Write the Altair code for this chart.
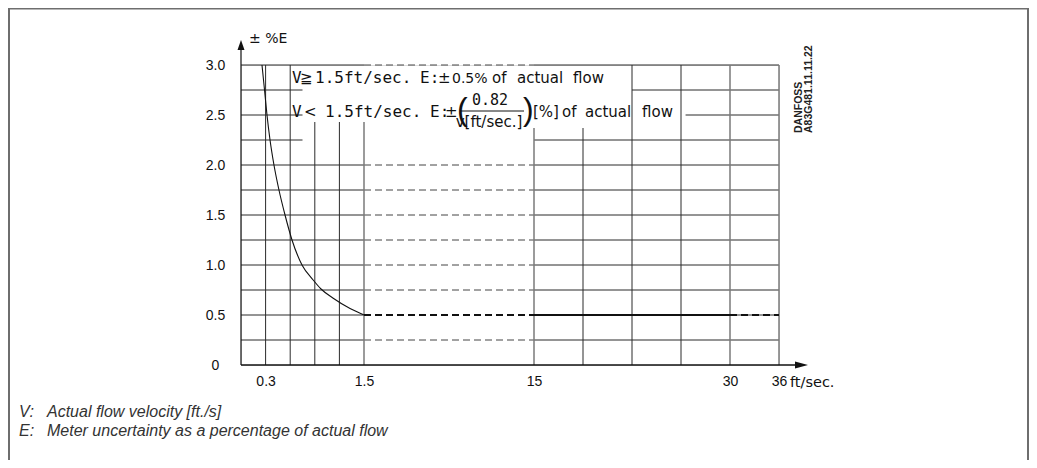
import altair as alt
import pandas as pd

# ---------------- data ----------------
# curve  E = f(v) for v < 1.5 ft/sec
curve_v = [0.256, 0.287, 0.317, 0.354, 0.402, 0.463, 0.537, 0.622, 0.744, 0.88, 0.976, 1.12, 1.33, 1.5]
curve_e = [3.0, 2.75, 2.5, 2.25, 2.0, 1.75, 1.5, 1.25, 1.0, 0.85, 0.76, 0.67, 0.565, 0.5]

# broken velocity axis (ft/sec) and tick labels
x_stops = [0, 1.5, 15, 30, 36]
x_ticks = [0.3, 1.5, 15, 30, 36]
y_ticks = [0, 0.5, 1.0, 1.5, 2.0, 2.5, 3.0]

# horizontal grid (level, from v, to v)
h_left_levels = [0.25, 0.5, 0.75, 1.0, 1.25, 1.5, 1.75, 2.0, 3.0]        # 0 -> 1.5
h_left_short = [2.25, 2.5, 2.75]                                          # 0 -> 0.75
h_mid_dashed = [0.25, 0.75, 1.0, 1.25, 1.5, 1.75, 2.0, 3.0]               # 1.5 -> 15
h_right_levels = [0.25, 0.5, 0.75, 1.0, 1.25, 1.5, 1.75, 2.0, 2.25, 3.0]  # 15 -> 36
h_right_short = [(2.5, 26.6), (2.75, 22.5)]                               # start -> 36

# vertical grid (v, top E)
v_dark = [(0.3, 3.0), (0.6, 3.0), (0.9, 2.43), (1.2, 2.43), (18.75, 2.37), (22.5, 3.0), (26.25, 3.0)]
v_grey = [(1.5, 2.43), (15, 2.37), (30, 3.0), (36, 3.0)]

# accuracy limit 0.5 % line pieces
limit_solid = [(15, 30)]
limit_dashed = [(1.5, 15), (30, 36)]
limit_level = 0.5

# ---------------- tables ----------------
hs = pd.DataFrame(
    [{"y": l, "x0": 0, "x1": 1.5} for l in h_left_levels]
    + [{"y": l, "x0": 0, "x1": 0.75} for l in h_left_short]
    + [{"y": l, "x0": 15, "x1": 36} for l in h_right_levels]
    + [{"y": l, "x0": s, "x1": 36} for l, s in h_right_short]
)
hd = pd.DataFrame([{"y": l, "x0": 1.5, "x1": 15} for l in h_mid_dashed])
vdk = pd.DataFrame([{"x": v, "y0": 0, "y1": t} for v, t in v_dark])
vgr = pd.DataFrame([{"x": v, "y0": 0, "y1": t} for v, t in v_grey])
ls = pd.DataFrame([{"y": limit_level, "x0": a, "x1": b} for a, b in limit_solid])
ld = pd.DataFrame([{"y": limit_level, "x0": a, "x1": b} for a, b in limit_dashed])
cv = pd.DataFrame({"v": curve_v, "e": curve_e})

# ---------------- scales / axes ----------------
OX, OY = 241, 65   # page position of plot origin
xscale = alt.Scale(domain=x_stops, range=[0, 123, 293, 489, 538], nice=False, zero=False)
yscale = alt.Scale(domain=[0, 3], nice=False, zero=False)
xaxis = alt.Axis(values=x_ticks, labelExpr="'' + datum.value", domain=False, ticks=False,
                 grid=False, labelFont="Liberation Sans", labelFontSize=14, labelColor="#111",
                 labelPadding=9, labelFlush=False, title=None)
yaxis = alt.Axis(values=y_ticks, labelExpr="datum.value == 0 ? '0' : format(datum.value, '.1f')",
                 domain=False, ticks=False, grid=False, labelFont="Liberation Sans",
                 labelFontSize=14, labelColor="#111", labelAlign="center", labelBaseline="middle",
                 labelPadding=26, title=None)

def X(f):
    return alt.X(f, type="quantitative", scale=xscale, axis=xaxis, title=None)

def Y(f):
    return alt.Y(f, type="quantitative", scale=yscale, axis=yaxis, title=None)

GRID = "#2b2b2b"
GREY = "#7a7a7a"

layers = []
layers.append(alt.Chart(hs).mark_rule(color=GRID, strokeWidth=1).encode(x=X("x0"), x2="x1", y=Y("y")))
layers.append(alt.Chart(hd).mark_rule(color="#444", strokeWidth=1, strokeDash=[7, 4]).encode(x=X("x0"), x2="x1", y=Y("y")))
layers.append(alt.Chart(vdk).mark_rule(color=GRID, strokeWidth=1).encode(x=X("x"), y=Y("y0"), y2="y1"))
layers.append(alt.Chart(vgr).mark_rule(color=GREY, strokeWidth=1.5).encode(x=X("x"), y=Y("y0"), y2="y1"))
layers.append(alt.Chart(ls).mark_rule(color="#111", strokeWidth=2).encode(x=X("x0"), x2="x1", y=Y("y")))
layers.append(alt.Chart(ld).mark_rule(color="#111", strokeWidth=2, strokeDash=[7, 4]).encode(x=X("x0"), x2="x1", y=Y("y")))
layers.append(alt.Chart(cv).mark_line(color="#111", strokeWidth=1.1, interpolate="monotone").encode(x=X("v"), y=Y("e")))

one = alt.InlineData(values=[{}])

def px(v):
    return v - OX

def py(v):
    return v - OY

def txt(s, x, y, size=15, font="DejaVu Sans", align="left", baseline="alphabetic",
        angle=0, weight="normal", color="#111", style="normal"):
    return alt.Chart(one).mark_text(text=s, align=align, baseline=baseline, font=font,
                                    fontSize=size, angle=angle, fontWeight=weight,
                                    color=color, fontStyle=style).encode(
        x=alt.value(px(x)), y=alt.value(py(y)))

def rule(x1, y1, x2, y2, color="#111", w=1.0):
    return alt.Chart(one).mark_rule(color=color, strokeWidth=w).encode(
        x=alt.value(px(x1)), x2=alt.value(px(x2)), y=alt.value(py(y1)), y2=alt.value(py(y2)))

# axis lines with arrows
layers.append(rule(241, 365, 241, 45, w=1.2))
layers.append(rule(241, 365, 800, 365, w=1.4))
layers.append(alt.Chart(one).mark_point(shape="M0,-1L0.7,1L-0.7,1Z", size=100, filled=True,
                                        color="#111", opacity=1).encode(
    x=alt.value(px(241)), y=alt.value(py(45))))
layers.append(alt.Chart(one).mark_point(shape="M1,0L-1,0.54L-1,-0.54Z", size=169, filled=True,
                                        color="#111", opacity=1).encode(
    x=alt.value(px(801.5)), y=alt.value(py(365))))

MONO = "DejaVu Sans Mono"
# axis captions
layers.append(txt("± %E", 249, 43, size=14))
layers.append(txt("ft/sec.", 790, 387, size=14.5))

# row 1
r1 = 83
for s, x, f, sz in [("V", 292, MONO, 16), ("≧", 300, "DejaVu Sans", 15), ("1.5ft/sec.", 315, MONO, 16),
                    ("E:", 420, MONO, 16), ("±", 438, "DejaVu Sans", 15), ("0.5%", 452, "DejaVu Sans", 14),
                    ("of", 492, "DejaVu Sans", 15), ("actual", 517, "DejaVu Sans", 15),
                    ("flow", 573, "DejaVu Sans", 15)]:
    layers.append(txt(s, x, r1, size=sz, font=f))
# row 2
r2 = 117
for s, x, f, sz in [("V", 292, MONO, 16), ("<", 304, "DejaVu Sans", 15), ("1.5ft/sec.", 325, MONO, 16),
                    ("E:", 430, MONO, 16), ("±", 445, "DejaVu Sans", 15),
                    ("[%]", 533, "DejaVu Sans", 15), ("of", 562, "DejaVu Sans", 15),
                    ("actual", 585, "DejaVu Sans", 15), ("flow", 642, "DejaVu Sans", 15)]:
    layers.append(txt(s, x, r2, size=sz, font=f))
layers.append(txt("(", 457, 120, size=32, font="Liberation Sans"))
layers.append(txt(")", 523, 120, size=32, font="Liberation Sans"))
layers.append(txt("0.82", 490, 105, size=15, font=MONO, align="center"))
layers.append(txt("v[ft/sec.]", 489, 127, size=15, align="center"))
layers.append(rule(461, 111, 524, 111, w=1))

# drawing number
layers.append(txt("DANFOSS", 799, 133, size=10.5, font="Liberation Sans", angle=270,
                  baseline="middle", weight="bold", color="#222"))
layers.append(txt("A83G481.11.11.22", 809, 133, size=10.5, font="Liberation Sans", angle=270,
                  baseline="middle", weight="bold", color="#222"))

# frame
FR = "#6e6e6e"
layers.append(rule(9, 8.8, 1029, 8.8, color=FR, w=1.5))
layers.append(rule(9, 8, 9, 460, color=FR, w=2))
layers.append(rule(1028, 8, 1028, 460, color=FR, w=2))

# footnotes
FN = "#333"
layers.append(txt("V:", 19, 417, size=16, font="Liberation Sans", style="italic", color=FN))
layers.append(txt("Actual flow velocity [ft./s]", 47, 417, size=16, font="Liberation Sans", style="italic", color=FN))
layers.append(txt("E:", 19, 436, size=16, font="Liberation Sans", style="italic", color=FN))
layers.append(txt("Meter uncertainty as a percentage of actual flow", 47, 436, size=16,
                  font="Liberation Sans", style="italic", color=FN))

chart = alt.layer(*layers).properties(
    width=538, height=300,
    autosize=alt.AutoSizeParams(type="none"),
    padding={"left": 233, "top": 57, "right": 250, "bottom": 95},
).configure_view(stroke=None).configure(background="white")

chart.save("out.html", embed_options={"renderer": "svg", "actions": False})
